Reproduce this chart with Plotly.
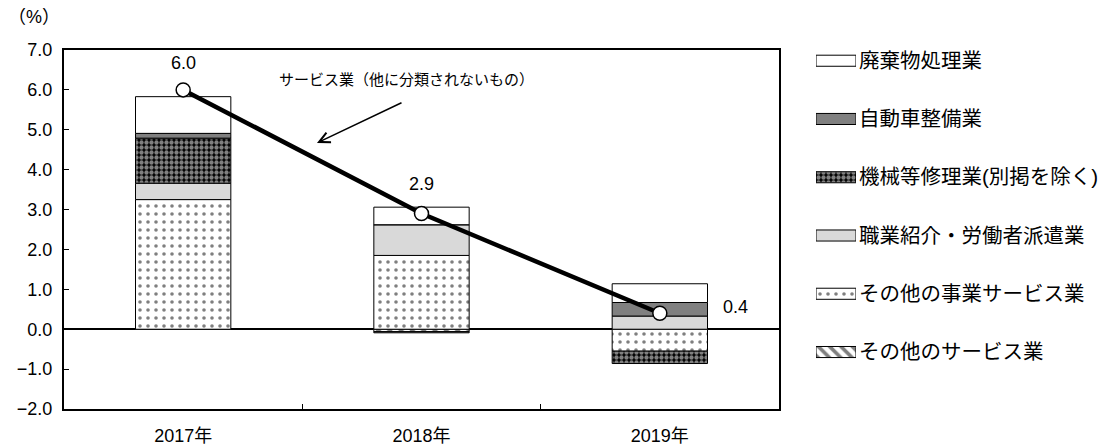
import plotly.graph_objects as go

years = ["2017年", "2018年", "2019年"]
other_services = [0.0, -0.06, 0.0]      # その他のサービス業
other_business = [3.25, 1.85, -0.55]    # その他の事業サービス業
employment = [0.41, 0.77, 0.33]         # 職業紹介・労働者派遣業
machinery = [1.13, 0.0, -0.31]          # 機械等修理業(別掲を除く)
auto_repair = [0.12, -0.03, 0.34]       # 自動車整備業
waste = [0.92, 0.44, 0.47]              # 廃棄物処理業
total = [6.0, 2.9, 0.4]                 # サービス業（他に分類されないもの）

FONT = "Liberation Sans, Arial, Noto Sans CJK JP"

series = [
    ("その他のサービス業", other_services, dict(color="white", pattern=dict(shape="\\", fgcolor="black", bgcolor="white", size=8, solidity=0.45))),
    ("その他の事業サービス業", other_business, dict(color="white", pattern=dict(shape=".", fgcolor="black", bgcolor="white", size=8, solidity=0.16))),
    ("職業紹介・労働者派遣業", employment, dict(color="#d9d9d9")),
    ("機械等修理業(別掲を除く)", machinery, dict(color="black", pattern=dict(shape=".", fgcolor="white", bgcolor="black", size=5, solidity=0.6))),
    ("自動車整備業", auto_repair, dict(color="#808080")),
    ("廃棄物処理業", waste, dict(color="white")),
]

fig = go.Figure()
for name, vals, mk in series:
    m = dict(mk)
    m["line"] = dict(color="black", width=1)
    fig.add_trace(go.Bar(x=years, y=vals, name=name, marker=m, width=0.4,
                         showlegend=False, xaxis="x", yaxis="y"))

fig.add_trace(go.Scatter(x=years, y=total, mode="lines+markers", name="サービス業（他に分類されないもの）",
                         line=dict(color="black", width=4.5),
                         marker=dict(size=14, color="white", line=dict(color="black", width=1.5)),
                         showlegend=False, xaxis="x", yaxis="y"))

# legend swatches on an auxiliary axis
legend_order = [s[0] for s in series][::-1]
for name, vals, mk in series:
    m = dict(mk)
    m["line"] = dict(color="black", width=1)
    fig.add_trace(go.Bar(x=[1], y=[name], orientation="h", marker=m, width=0.19,
                         showlegend=False, xaxis="x2", yaxis="y2", hoverinfo="skip"))

# page body adds an 8px offset; target pixel positions are given in window coordinates
OFF = 8
W, H = 1107 - OFF, 448 - OFF
ml, mr, mt, mb = 64 - OFF, 2, 50 - OFF, 39
pw = W - ml - mr
ph = H - mt - mb


def px(xw):
    return (xw - 64) / pw


def py(yw):
    return (409 - yw) / ph


fig.update_layout(
    width=W, height=H, margin=dict(l=ml, r=mr, t=mt, b=mb),
    paper_bgcolor="white", plot_bgcolor="white",
    barmode="relative", showlegend=False,
    font=dict(family=FONT, size=18, color="black"),
    xaxis=dict(domain=[0, px(779)], showline=True, linecolor="black", linewidth=2, mirror=True,
               ticks="inside", tickson="boundaries", ticklen=5, tickcolor="black",
               showgrid=False, ticklabelstandoff=9, tickfont=dict(size=18), automargin=False),
    yaxis=dict(range=[-2, 7], dtick=1, tickformat=".1f", showline=True, linecolor="black",
               linewidth=2, mirror=True, ticks="inside", ticklen=5, tickcolor="black",
               showgrid=False, zeroline=True, zerolinecolor="black", zerolinewidth=2,
               ticklabelstandoff=6, tickfont=dict(size=18), automargin=False),
    xaxis2=dict(domain=[px(816), px(856)], range=[0, 1], visible=False,
                anchor="y2", automargin=False),
    yaxis2=dict(domain=[0, 1], anchor="x2", side="right", type="category",
                categoryorder="array", categoryarray=legend_order,
                range=[5.978, -0.184], showline=False, showgrid=False, zeroline=False,
                ticks="", tickfont=dict(size=20.5), ticklabelstandoff=2, automargin=False),
)

# value labels
shifts = [(0, 27), (0, 30), (76, 6)]
for x, v, (dx, dy) in zip(years, total, shifts):
    fig.add_annotation(x=x, y=v, text=f"{v:.1f}", showarrow=False, xshift=dx, yshift=dy,
                       font=dict(size=18), xref="x", yref="y")

# series label with arrow
fig.add_annotation(x=px(406), y=py(79), xref="paper", yref="paper", xanchor="center", yanchor="middle",
                   text="サービス業（他に分類されないもの）", showarrow=False, font=dict(size=15))
fig.add_annotation(x=px(317), y=py(143), xref="paper", yref="paper",
                   ax=403 - 317, ay=102 - 143, axref="pixel", ayref="pixel",
                   text="", showarrow=True, arrowhead=5, arrowsize=1.4, arrowwidth=1.5, arrowcolor="black")

fig.add_annotation(x=px(6), y=py(17), xref="paper", yref="paper", xanchor="left", yanchor="middle",
                   text="（%）", showarrow=False, font=dict(size=18))

fig.write_html("out.html")
